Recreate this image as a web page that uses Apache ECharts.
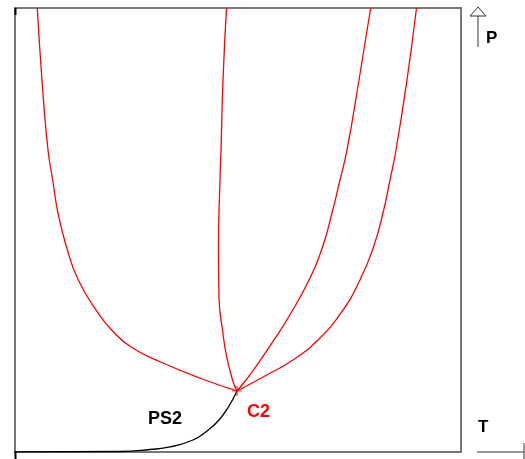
<!DOCTYPE html>
<html>
<head>
<meta charset="utf-8">
<script src="https://cdn.jsdelivr.net/npm/echarts@6/dist/echarts.min.js"></script>
<style>
  html, body { margin: 0; padding: 0; background: #fff; }
  #chart { width: 525px; height: 459px; }
</style>
</head>
<body>
<div id="chart"></div>
<script>
// curves as [T, P] pairs, both axes run 0..100
var curveLeft = [[5.00, 100], [6.05, 83.78], [7.40, 68.02], [8.45, 61.26], [9.64, 53.83],
    [11.55, 46.17], [14.19, 38.74], [18.61, 31.31], [21.68, 27.48], [26.01, 23.65],
    [33.18, 20.05], [42.60, 16.22], [49.78, 13.74]];
var curveMid = [[47.42, 100], [46.64, 83.78], [46.19, 68.02], [45.96, 61.26], [45.63, 46.17],
    [45.74, 34.91], [46.52, 27.48], [47.47, 21.40], [48.77, 16.22], [49.78, 13.74]];
var curveRight1 = [[79.75, 100], [77.13, 83.78], [74.44, 68.02], [72.87, 61.26], [71.08, 53.83],
    [68.95, 46.17], [65.92, 38.74], [61.88, 31.31], [58.07, 25.23], [54.26, 19.59],
    [51.79, 16.22], [49.78, 13.74]];
var curveRight2 = [[90.02, 100], [87.89, 83.78], [85.43, 68.02], [84.08, 61.26], [82.51, 53.83],
    [80.38, 46.17], [77.35, 38.74], [73.09, 31.31], [67.94, 25.23], [62.33, 20.72],
    [56.05, 17.12], [49.78, 13.74]];
var curvePS2 = [[-1.79, 0], [23.54, 0.11], [30.27, 0.56], [34.75, 1.13], [39.91, 2.70],
    [43.05, 4.73], [45.74, 7.21], [47.98, 10.36], [49.78, 13.74]];
var pointC2 = [[49.78, 13.74]];

var chart = echarts.init(document.getElementById('chart'));

function redLine(data) {
    return {
        type: 'line',
        data: data,
        smooth: 0.5,
        symbol: 'none',
        lineStyle: { color: '#ff0000', width: 1.3 },
        z: 3
    };
}

chart.setOption({
    animation: false,
    grid: {
        left: 15, top: 8, width: 446, height: 444,
        show: true, borderColor: '#777', borderWidth: 2
    },
    xAxis: {
        type: 'value', min: 0, max: 100,
        axisLine: { show: false }, axisTick: { show: false },
        axisLabel: { show: false }, splitLine: { show: false }
    },
    yAxis: {
        type: 'value', min: 0, max: 100,
        axisLine: { show: false }, axisTick: { show: false },
        axisLabel: { show: false }, splitLine: { show: false }
    },
    series: [
        redLine(curveLeft),
        redLine(curveMid),
        redLine(curveRight1),
        redLine(curveRight2),
        {
            type: 'line',
            data: curvePS2,
            smooth: 0.5,
            symbol: 'none',
            clip: false,
            lineStyle: { color: '#000', width: 1.3 },
            z: 2
        },
        {
            type: 'scatter',
            data: pointC2,
            symbol: 'path://M-0.12,-1h0.24v2h-0.24zM-1,-0.12h2v0.24h-2z',
            symbolSize: 10,
            itemStyle: { color: '#ff0000' },
            z: 4
        }
    ],
    graphic: [
        // small black ticks on the frame
        { type: 'line', shape: { x1: 15.5, y1: 8, x2: 15.5, y2: 15 }, style: { stroke: '#000', lineWidth: 2 } },
        { type: 'line', shape: { x1: 15.5, y1: 452, x2: 15.5, y2: 459 }, style: { stroke: '#000', lineWidth: 2 } },
        // P arrow
        { type: 'line', shape: { x1: 478, y1: 16, x2: 478, y2: 47 }, style: { stroke: '#333', lineWidth: 1 } },
        { type: 'polygon', shape: { points: [[478, 7], [470, 16], [486, 16]] },
          style: { fill: '#fff', stroke: '#333', lineWidth: 1 } },
        // T arrow
        { type: 'line', shape: { x1: 477, y1: 452, x2: 524, y2: 452 }, style: { stroke: '#333', lineWidth: 1 } },
        { type: 'line', shape: { x1: 524, y1: 443, x2: 524, y2: 459 }, style: { stroke: '#333', lineWidth: 1 } },
        // labels
        { type: 'text', left: 486, top: 30, style: { text: 'P', font: 'bold 17px "Liberation Sans", Arial', fill: '#000' } },
        { type: 'text', left: 478, top: 419, style: { text: 'T', font: 'bold 17px "Liberation Sans", Arial', fill: '#000' } },
        { type: 'text', left: 148, top: 410, style: { text: 'PS2', font: 'bold 18px "Liberation Sans", Arial', fill: '#000' } },
        { type: 'text', left: 247, top: 403, style: { text: 'C2', font: 'bold 18px "Liberation Sans", Arial', fill: '#ff0000' } }
    ]
});
</script>
</body>
</html>
